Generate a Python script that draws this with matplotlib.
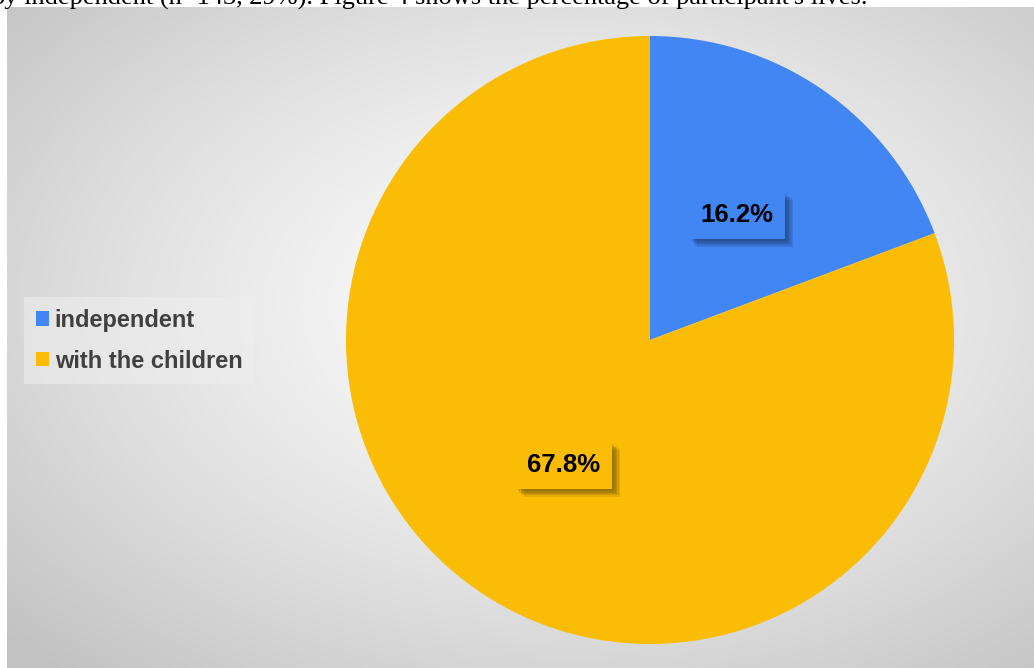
import numpy as np
import matplotlib
matplotlib.use("Agg")
import matplotlib.pyplot as plt
from matplotlib.patches import Patch
import matplotlib.patheffects as pe

# Living arrangement of participants (percent)
categories = ["independent", "with the children"]
values = [16.2, 67.8]
colors = ["#4286F4", "#FBBC05"]
caption = "by independent (n=143, 29%). Figure 4 shows the percentage of participant's lives."

W, H, DPI = 1034, 668, 100
fig = plt.figure(figsize=(W / DPI, H / DPI), dpi=DPI)
fig.patch.set_facecolor("white")

# Chart-area background: radial grey gradient, light in the middle
x0, y0 = 7, 7  # top-left of chart area in pixels
bg = fig.add_axes([x0 / W, 0, 1 - x0 / W, 1 - y0 / H])
bg.set_axis_off()
gx, gy = np.meshgrid(np.linspace(0, 1, 400), np.linspace(0, 1, 300))
cx, cy = 0.55, 0.45
d = np.sqrt(((gx - cx) / 0.75) ** 2 + ((gy - cy) / 0.75) ** 2)
d = np.clip(d, 0, 1)
shade = 0.995 - 0.235 * d ** 1.3
bg.imshow(shade, cmap="gray", vmin=0, vmax=1, extent=[0, 1, 1, 0],
          aspect="auto", interpolation="bicubic")
bg.set_xlim(0, 1)
bg.set_ylim(1, 0)

# Pie placed with centre at (650, 340) px and radius 304 px
pcx, pcy, R = 650, 340, 304
ax = fig.add_axes([(pcx - R) / W, (H - pcy - R) / H, 2 * R / W, 2 * R / H])
ax.set_axis_off()
total = sum(values)
wedges, _, autotexts = ax.pie(
    values, colors=colors, startangle=90, counterclock=False,
    autopct=lambda p: f"{p * total / 100:.1f}%", pctdistance=0.5,
    wedgeprops=dict(linewidth=0),
    textprops=dict(fontsize=18.5, fontweight="bold", color="black",
                   family="Liberation Sans"))
ax.set_xlim(-1, 1)
ax.set_ylim(-1, 1)
ax.set_aspect("equal")

# Soft drop shadow behind each value box
shadow = [pe.SimplePatchShadow(offset=(o, -o), shadow_rgbFace="black", alpha=0.09)
          for o in (6, 5, 4, 3, 2)]
for t, c in zip(autotexts, colors):
    t.set_bbox(dict(boxstyle="square,pad=0.45", facecolor=c, edgecolor="none"))
    t.get_bbox_patch().set_path_effects(shadow + [pe.Normal()])

# Legend on the left
handles = [Patch(facecolor=c, edgecolor="none") for c in colors]
leg = fig.legend(handles, categories, loc="upper left",
                 bbox_to_anchor=(24 / W, 1 - 297 / H),
                 frameon=True, fancybox=False, framealpha=0.6,
                 facecolor="#eeeeee", edgecolor="none",
                 handlelength=0.55, handleheight=0.55, handletextpad=0.25,
                 labelspacing=0.75, borderpad=0.5, borderaxespad=0,
                 prop=dict(family="Liberation Sans", weight="bold", size=17))
for txt in leg.get_texts():
    txt.set_color("#404040")

# Caption line partly cut by the top edge
fig.text(-9 / W, 1 - 5 / H, caption, family="Liberation Serif", fontsize=19,
         ha="left", va="baseline", color="black")

fig.savefig("out.png", dpi=DPI)
